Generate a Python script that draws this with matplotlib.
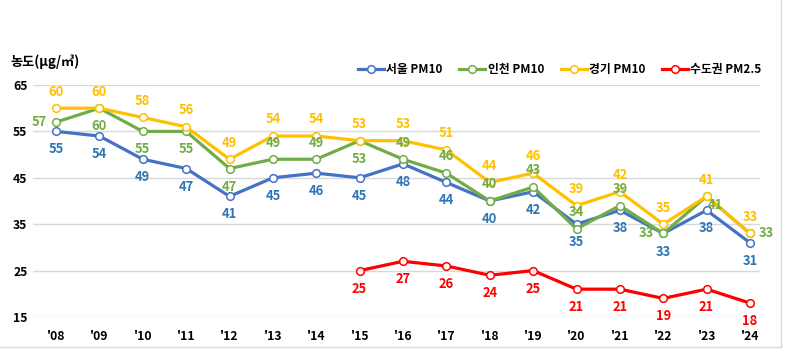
import matplotlib
matplotlib.use("Agg")
import matplotlib.pyplot as plt
from matplotlib.lines import Line2D

plt.rcParams["font.family"] = ["Noto Sans CJK KR", "DejaVu Sans"]

# ── Data ─────────────────────────────────────────────────────────────────────
years = ["'08", "'09", "'10", "'11", "'12", "'13", "'14", "'15", "'16",
         "'17", "'18", "'19", "'20", "'21", "'22", "'23", "'24"]
seoul = [55, 54, 49, 47, 41, 45, 46, 45, 48, 44, 40, 42, 35, 38, 33, 38, 31]
incheon = [57, 60, 55, 55, 47, 49, 49, 53, 49, 46, 40, 43, 34, 39, 33, 41, 33]
gyeonggi = [60, 60, 58, 56, 49, 54, 54, 53, 53, 51, 44, 46, 39, 42, 35, 41, 33]
pm25_start = 7
pm25 = [25, 27, 26, 24, 25, 21, 21, 19, 21, 18]
yticks = [15, 25, 35, 45, 55, 65]

# label placement for Incheon series (varies to avoid overlap)
incheon_pos = ["L", "B", "B", "B", "B", "T", "T", "B", "T",
               "T", "T", "T", "T", "T", "L", "X", "R"]

C_SEOUL, C_SEOUL_TXT = "#4472C4", "#2E75B6"
C_INCH = "#70AD47"
C_GG = "#FFC000"
C_RED = "#FF0000"

W, H = 787, 350
fig = plt.figure(figsize=(W / 100, H / 100), dpi=100)
ax = fig.add_axes([33 / W, 1 - 317 / H, (760 - 33) / W, (317 - 85) / H])

x = list(range(len(years)))
mk = dict(marker="o", ms=5.5, mfc="white", mew=1.1, lw=2.3)

ax.plot(x, seoul, color=C_SEOUL, mec=C_SEOUL, label="서울 PM10", **mk)
ax.plot(x, incheon, color=C_INCH, mec=C_INCH, label="인천 PM10", **mk)
ax.plot(x, gyeonggi, color=C_GG, mec=C_GG, label="경기 PM10", **mk)
x25 = list(range(pm25_start, pm25_start + len(pm25)))
ax.plot(x25, pm25, color=C_RED, mec=C_RED, label="수도권 PM2.5", **mk)

lab = dict(fontsize=9.3, fontweight="bold", ha="center", va="center")
offs = {"T": (0, 12), "B": (0, -13), "L": (-12, 0), "R": (12, 0), "X": (6, -6)}


def put(xi, v, pos, color):
    ax.annotate(str(v), (xi, v), textcoords="offset points",
                xytext=offs[pos], color=color, **lab)


for i, v in enumerate(seoul):
    put(i, v, "B", C_SEOUL_TXT)
for i, v in enumerate(incheon):
    put(i, v, incheon_pos[i], C_INCH)
for i, v in enumerate(gyeonggi):
    put(i, v, "T", C_GG)
for i, v in zip(x25, pm25):
    put(i, v, "B", C_RED)

sp = (750 - 56) / 16
ax.set_xlim(-(56 - 33) / sp, 16 + (760 - 750) / sp)
ax.set_ylim(15, 65)
ax.set_yticks(yticks)
ax.set_xticks(x)
ax.set_xticklabels(years)
ax.yaxis.grid(True, color="#D9D9D9", lw=1)
ax.set_axisbelow(True)
for s in ax.spines.values():
    s.set_visible(False)
ax.tick_params(length=0, labelsize=8.8)
for t in ax.get_xticklabels() + ax.get_yticklabels():
    t.set_fontweight("bold")
ax.tick_params(axis="x", pad=9)
ax.tick_params(axis="y", pad=4)

fig.text(10 / W, 1 - 62 / H, "농도(μg/㎥)", fontsize=9.5, fontweight="bold",
         ha="left", va="center")

fig.legend(loc="center right", bbox_to_anchor=(772 / W, 1 - 70 / H),
           ncol=4, frameon=False, handlelength=2.2,
           columnspacing=1.4, handletextpad=0.2,
           prop={"weight": "bold", "size": 8.5})

# outer frame remnants
fig.add_artist(Line2D([0, 781 / W], [1 - 347 / H] * 2, color="#D9D9D9", lw=1))
fig.add_artist(Line2D([781 / W] * 2, [1 - 347 / H, 1], color="#D9D9D9", lw=1))

fig.savefig("out.png", dpi=100)
